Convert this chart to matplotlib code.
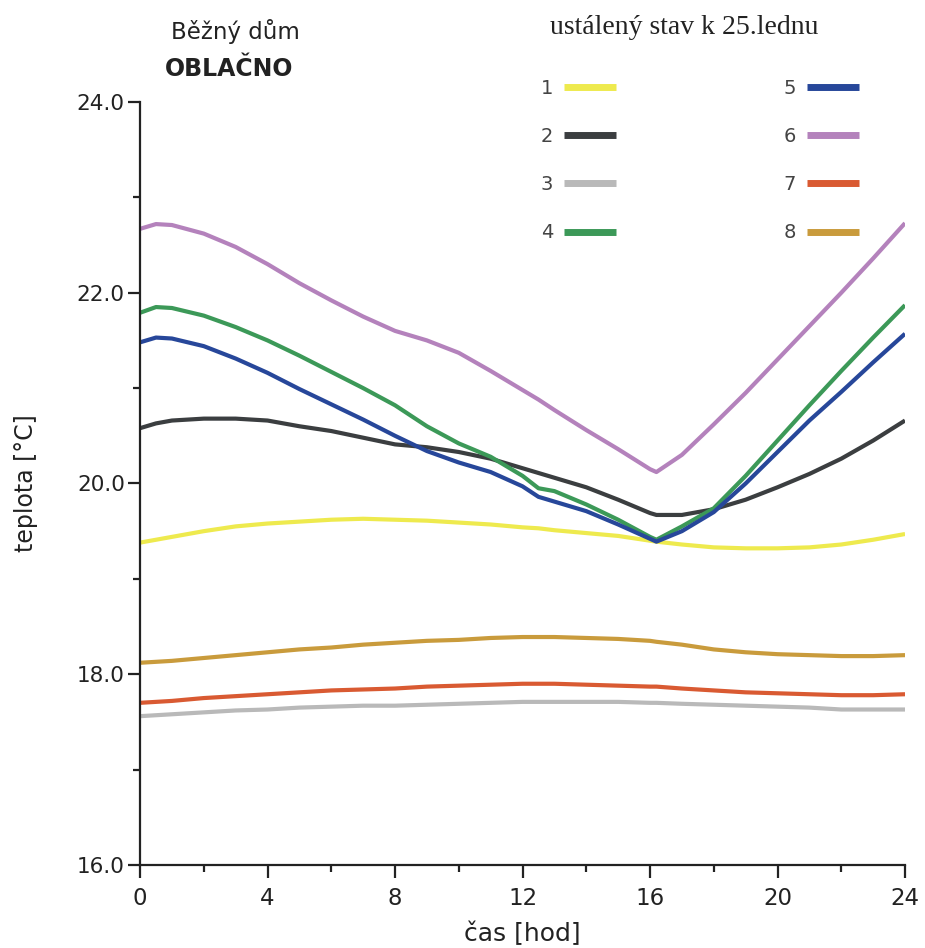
import matplotlib
matplotlib.use('Agg')
import matplotlib.pyplot as plt
from matplotlib.ticker import MultipleLocator, FormatStrFormatter

plt.rcParams['font.family'] = ['DejaVu Sans']

# time of day [h]
hours = [0, 0.5, 1, 2, 3, 4, 5, 6, 7, 8, 9, 10, 11, 12, 12.5, 13, 14, 15, 16, 16.2,
         17, 18, 19, 20, 21, 22, 23, 24]

t1 = [19.38, 19.41, 19.44, 19.50, 19.55, 19.58, 19.60, 19.62, 19.63, 19.62, 19.61, 19.59, 19.57, 19.54,
      19.53, 19.51, 19.48, 19.45, 19.40, 19.39, 19.36, 19.33, 19.32, 19.32, 19.33, 19.36, 19.41, 19.47]
t2 = [20.58, 20.63, 20.66, 20.68, 20.68, 20.66, 20.60, 20.55, 20.48, 20.41, 20.38, 20.33, 20.26, 20.16,
      20.11, 20.06, 19.96, 19.83, 19.69, 19.67, 19.67, 19.73, 19.83, 19.96, 20.10, 20.26, 20.45, 20.66]
t3 = [17.56, 17.57, 17.58, 17.60, 17.62, 17.63, 17.65, 17.66, 17.67, 17.67, 17.68, 17.69, 17.70, 17.71,
      17.71, 17.71, 17.71, 17.71, 17.70, 17.70, 17.69, 17.68, 17.67, 17.66, 17.65, 17.63, 17.63, 17.63]
t4 = [21.79, 21.85, 21.84, 21.76, 21.64, 21.50, 21.34, 21.17, 21.00, 20.82, 20.60, 20.42, 20.28, 20.08,
      19.95, 19.92, 19.78, 19.62, 19.44, 19.41, 19.55, 19.74, 20.08, 20.45, 20.82, 21.18, 21.53, 21.87]
t5 = [21.48, 21.53, 21.52, 21.44, 21.31, 21.16, 20.99, 20.83, 20.67, 20.50, 20.34, 20.22, 20.12, 19.97,
      19.86, 19.81, 19.71, 19.57, 19.42, 19.39, 19.50, 19.70, 20.00, 20.33, 20.66, 20.96, 21.27, 21.57]
t6 = [22.67, 22.72, 22.71, 22.62, 22.48, 22.30, 22.10, 21.92, 21.75, 21.60, 21.50, 21.37, 21.18, 20.98,
      20.88, 20.77, 20.56, 20.36, 20.15, 20.12, 20.30, 20.62, 20.95, 21.30, 21.65, 22.00, 22.36, 22.73]
t7 = [17.70, 17.71, 17.72, 17.75, 17.77, 17.79, 17.81, 17.83, 17.84, 17.85, 17.87, 17.88, 17.89, 17.90,
      17.90, 17.90, 17.89, 17.88, 17.87, 17.87, 17.85, 17.83, 17.81, 17.80, 17.79, 17.78, 17.78, 17.79]
t8 = [18.12, 18.13, 18.14, 18.17, 18.20, 18.23, 18.26, 18.28, 18.31, 18.33, 18.35, 18.36, 18.38, 18.39,
      18.39, 18.39, 18.38, 18.37, 18.35, 18.34, 18.31, 18.26, 18.23, 18.21, 18.20, 18.19, 18.19, 18.20]

series = [t1, t2, t3, t4, t5, t6, t7, t8]
labels = ['1', '2', '3', '4', '5', '6', '7', '8']
colors = ['#eeea4e', '#3b3e40', '#b9b9b9', '#3c9958', '#27479a', '#b482bc', '#d95a32', '#c99b3c']

fig = plt.figure(figsize=(9.25, 9.48), dpi=100)
ax = fig.add_axes([0.1514, 0.0876, 0.8270, 0.8048])

for ys, lab, c in zip(series, labels, colors):
    ax.plot(hours, ys, color=c, linewidth=3, label=lab, solid_capstyle='butt')

ax.set_xlim(0, 24)
ax.set_ylim(16, 24)
ax.xaxis.set_major_locator(MultipleLocator(4))
ax.xaxis.set_minor_locator(MultipleLocator(2))
ax.yaxis.set_major_locator(MultipleLocator(2))
ax.yaxis.set_minor_locator(MultipleLocator(1))
ax.yaxis.set_major_formatter(FormatStrFormatter('%.1f'))

for side in ['top', 'right']:
    ax.spines[side].set_visible(False)
for side in ['left', 'bottom']:
    ax.spines[side].set_linewidth(1.6)
    ax.spines[side].set_color('#222222')

ax.tick_params(which='major', length=9, width=1.6, color='#222222', direction='out')
ax.tick_params(which='minor', length=5, width=1.6, color='#222222', direction='out')
ax.tick_params(axis='y', labelsize=15.5, pad=2, labelcolor='#222222')
ax.tick_params(axis='x', labelsize=16.5, pad=7, labelcolor='#222222')

ax.set_xlabel('čas [hod]', fontsize=18, labelpad=8, color='#222222')
ax.set_ylabel('teplota [°C]', fontsize=17, labelpad=28, color='#222222')

fig.text(0.255, 0.967, 'Běžný dům', fontsize=16.5, ha='center', va='center', color='#222222')
fig.text(0.248, 0.927, 'OBLAČNO', fontsize=17, fontweight='bold', ha='center', va='center',
         color='#222222')
fig.text(0.740, 0.971, 'ustálený stav k 25.lednu', fontsize=20, family='Liberation Serif',
         ha='center', va='center', color='#222222')

leg = ax.legend(ncol=2, loc='upper left', bbox_to_anchor=(0.574, 0.927),
                bbox_transform=fig.transFigure, frameon=False, markerfirst=False,
                fontsize=14, handlelength=2.7, handletextpad=0.55, columnspacing=8.6,
                labelspacing=1.5, borderpad=0, labelcolor='#444444')
for h in leg.get_lines():
    h.set_linewidth(5)

fig.savefig('out.png', dpi=100)
